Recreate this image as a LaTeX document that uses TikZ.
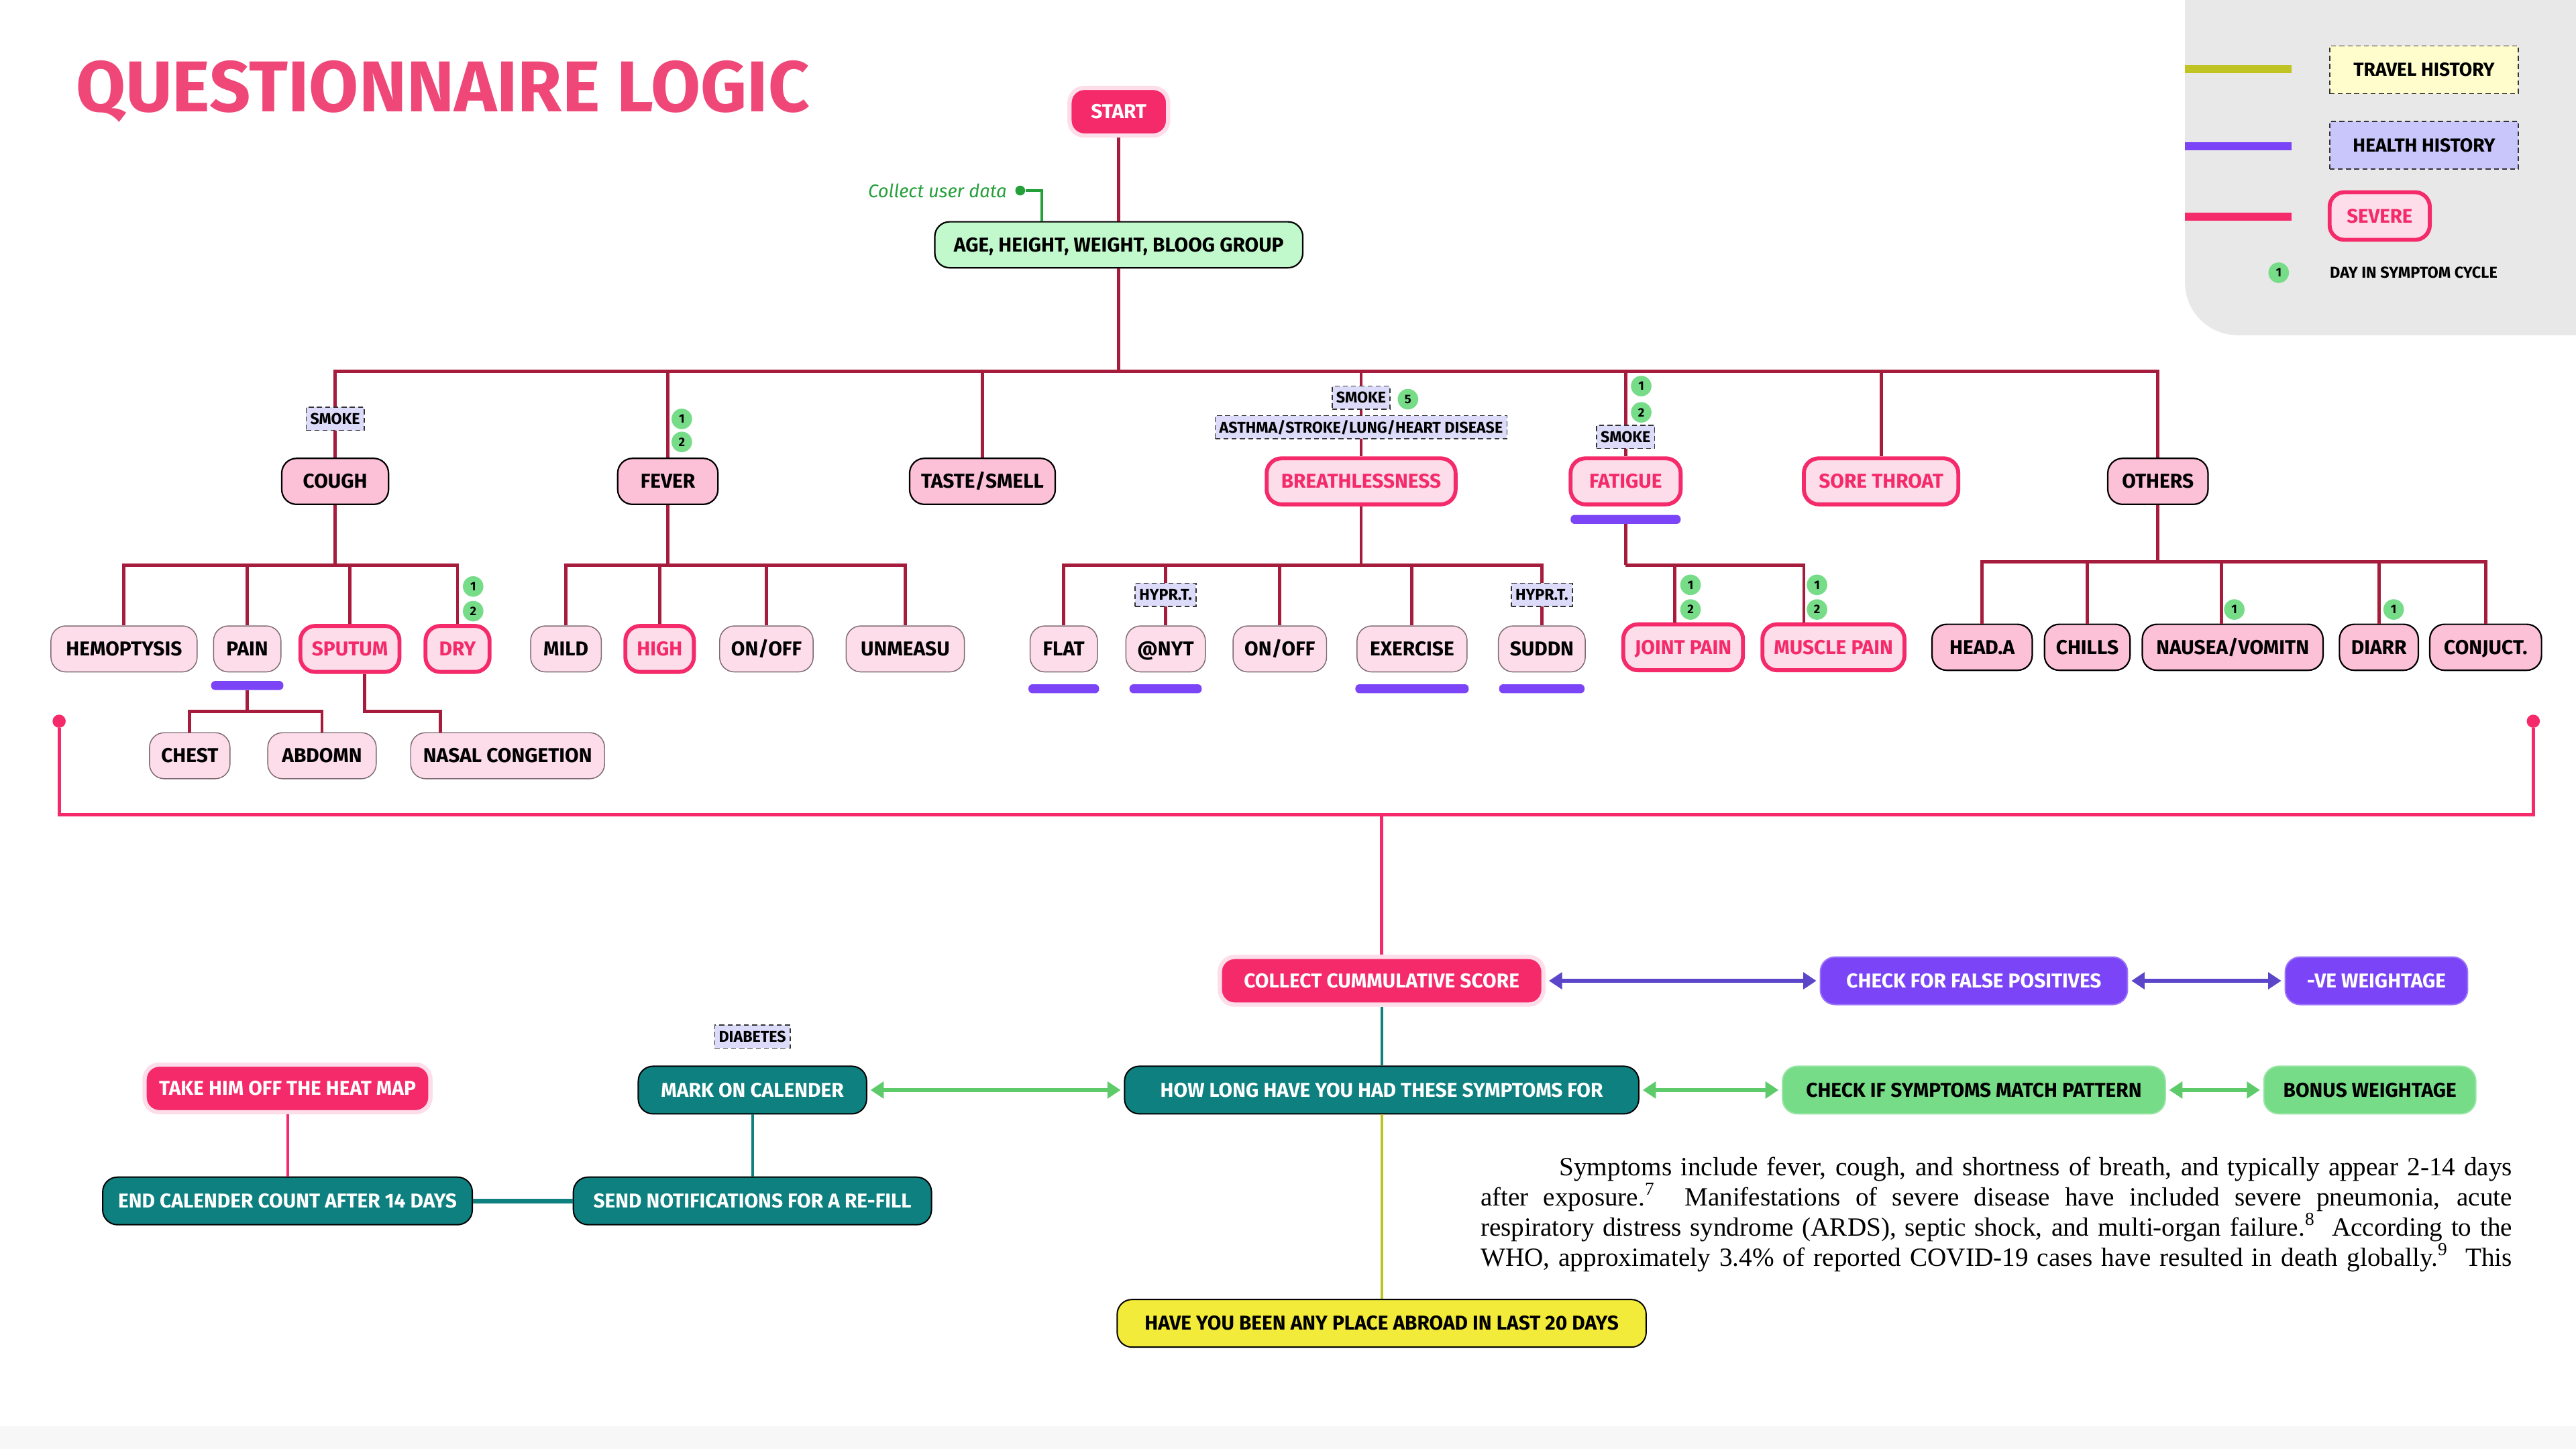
\documentclass[tikz,border=0pt]{standalone}
\usepackage{fontspec}
\setmainfont{Fira Sans}
\newfontfamily\serifbody{Liberation Serif}
\usetikzlibrary{arrows.meta,positioning}
\definecolor{wirered}{HTML}{A61C3C}
\definecolor{hotpink}{HTML}{F42A6A}
\definecolor{glow}{HTML}{FDDDE9}
\definecolor{rosemid}{HTML}{FCC0D7}
\definecolor{roselight}{HTML}{FCDDE9}
\definecolor{rim}{HTML}{7E6A72}
\definecolor{lilac}{HTML}{DCDCFA}
\definecolor{daygreen}{HTML}{77DC88}
\definecolor{violetfill}{HTML}{7B45F7}
\definecolor{violetline}{HTML}{5B46C9}
\definecolor{tealfill}{HTML}{0E8080}
\definecolor{mint}{HTML}{C2F9CC}
\definecolor{arrowgreen}{HTML}{5DCB6A}
\definecolor{lemon}{HTML}{F2EB3A}
\definecolor{travelline}{HTML}{BFC423}
\definecolor{travelfill}{HTML}{FFFDCB}
\definecolor{healthfill}{HTML}{C8C6FB}
\definecolor{panelgrey}{HTML}{E8E8E8}
\definecolor{titlepink}{HTML}{EF4778}
\definecolor{notegreen}{HTML}{24A03A}

\begin{document}
\begin{tikzpicture}[x=1pt,y=-1pt,
 box/.style={rounded corners=9pt,minimum height=28pt,inner xsep=7pt,inner ysep=0pt,text height=8.3pt,text depth=0pt,font=\bfseries\fontsize{12.2}{13}\selectfont},
 topic/.style={box,fill=rosemid,draw=black,line width=.9pt},
 item/.style={box,fill=roselight,draw=rim,line width=.6pt},
 severe/.style={box,fill=roselight,draw=hotpink,line width=2.4pt,text=hotpink},
 hot/.style={box,fill=hotpink,draw=glow,line width=2.6pt,text=white,minimum height=29pt},
 tealbox/.style={box,fill=tealfill,draw=black,line width=.8pt,text=white,minimum height=29pt},
 violetbox/.style={box,fill=violetfill,draw=violetfill!75!white,line width=.8pt,text=white,minimum height=29pt},
 greenbox/.style={box,fill=daygreen,draw=daygreen!75!white,line width=.8pt,minimum height=29pt},
 cond/.style={draw=black!80,dash pattern=on 3pt off 2pt,fill=lilac,line width=.7pt,inner xsep=2.5pt,inner ysep=0pt,minimum height=14pt,text height=6.8pt,text depth=0pt,font=\bfseries\fontsize{9.5}{10}\selectfont},
 day/.style={circle,fill=daygreen,inner sep=0pt,minimum size=12.5pt,font=\bfseries\fontsize{7.5}{8}\selectfont},
 bar/.style={fill=violetfill,rounded corners=2.5pt,minimum height=5.5pt,inner sep=0pt},
 wire/.style={draw=wirered,line width=2pt},
 leadline/.style={line width=1.6pt},
 twoway/.style={{Triangle[length=8pt,width=10pt]}-{Triangle[length=8pt,width=10pt]},line width=2.6pt,shorten <=2pt,shorten >=2pt}]
 \path[use as bounding box,fill=white] (0,0) rectangle (1568,882);
 \begin{scope} \clip (0,0) rectangle (1568,882); \fill[panelgrey,rounded corners=32pt] (1330,-40) rectangle (1610,204); \end{scope}
 \fill[black!3] (0,868) rectangle (1568,882);
 \draw[travelline,line width=5pt] (1330,42)--(1395,42); \draw[violetfill,line width=5pt] (1330,89)--(1395,89); \draw[hotpink,line width=5pt] (1330,132)--(1395,132);
 \node[cond,fill=travelfill,minimum width=115pt,minimum height=29pt,text height=8pt,font=\bfseries\fontsize{11.5}{12}\selectfont] (travel) at (1475.5,42.5) {TRAVEL HISTORY};
 \node[cond,fill=healthfill,minimum width=115pt,minimum height=29pt,text height=8pt,font=\bfseries\fontsize{11.5}{12}\selectfont] (health) at (1475.5,88.5) {HEALTH HISTORY};
 \node[severe,minimum width=61pt,minimum height=29pt,font=\bfseries\fontsize{12}{13}\selectfont] (severekey) at (1448.5,131.5) {SEVERE};
 \node[day] (daykey) at (1387,166) {1}; \node[anchor=west,inner sep=0pt,font=\bfseries\fontsize{9.6}{10}\selectfont] (daytext) at (1418,166) {DAY IN SYMPTOM CYCLE};
 \node[anchor=base west,inner sep=0pt,text=titlepink,font=\bfseries\fontsize{43.8}{46}\selectfont] (title) at (46,68) {QUESTIONNAIRE LOGIC};

 \node[hot,minimum width=60pt] (start) at (681,68) {START};
 \node[box,fill=mint,draw=black,line width=.9pt,minimum width=224pt] (age) at (681,149) {AGE, HEIGHT, WEIGHT, BLOOG GROUP};
 \node[anchor=east,inner sep=0pt,text=notegreen,font=\itshape\fontsize{11.2}{12}\selectfont] (note) at (613,116) {Collect user data};
 \node[circle,fill=notegreen,inner sep=0pt,minimum size=6pt] (notedot) at (621,116) {};

 \node[topic,minimum width=65pt] (cough) at (204,293) {COUGH}; \node[topic,minimum width=61pt] (fever) at (406.5,293) {FEVER};
 \node[topic,minimum width=88pt] (taste) at (598,293) {TASTE/SMELL}; \node[severe,minimum width=115pt] (breath) at (828.5,293) {BREATHLESSNESS};
 \node[severe,minimum width=67pt] (fatigue) at (989.5,293) {FATIGUE}; \node[severe,minimum width=94pt] (sore) at (1145,293) {SORE THROAT};
 \node[topic,minimum width=61pt] (others) at (1313.5,293) {OTHERS};

 \node[item,minimum width=89pt] (hemo) at (75.5,395) {HEMOPTYSIS}; \node[item,minimum width=41pt] (pain) at (150.5,395) {PAIN};
 \node[severe,minimum width=58pt] (sputum) at (213,395) {SPUTUM}; \node[severe,minimum width=39pt] (dry) at (278.5,395) {DRY};
 \node[item,minimum width=43pt] (mild) at (344.5,395) {MILD}; \node[severe,minimum width=41pt] (high) at (401.5,395) {HIGH};
 \node[item,minimum width=55pt] (onoffa) at (466.5,395) {ON/OFF}; \node[item,minimum width=72pt] (unmeas) at (551,395) {UNMEASU};
 \node[item,minimum width=41pt] (flat) at (647.5,395) {FLAT}; \node[item,minimum width=43pt] (nyt) at (709.5,395) {@NYT};
 \node[item,minimum width=54pt] (onoffb) at (779,395) {ON/OFF}; \node[item,minimum width=67pt] (exercise) at (859.5,395) {EXERCISE};
 \node[item,minimum width=51pt] (suddn) at (938.5,395) {SUDDN};
 \node[severe,minimum width=71pt] (joint) at (1024.5,394) {JOINT PAIN}; \node[severe,minimum width=84pt] (muscle) at (1116,394) {MUSCLE PAIN};
 \node[topic,minimum width=61pt] (heada) at (1206.5,394) {HEAD.A}; \node[topic,minimum width=51pt] (chills) at (1270.5,394) {CHILLS};
 \node[topic,minimum width=110pt] (nausea) at (1359,394) {NAUSEA/VOMITN}; \node[topic,minimum width=48pt] (diarr) at (1448,394) {DIARR};
 \node[topic,minimum width=68pt] (conjuct) at (1513,394) {CONJUCT.};
 \node[item,minimum width=49pt] (chest) at (115.5,460) {CHEST}; \node[item,minimum width=66pt] (abdomn) at (196,460) {ABDOMN};
 \node[item,minimum width=118pt] (nasal) at (309,460) {NASAL CONGETION};

 \node[bar,minimum width=44pt,below=5pt of pain] (painbar) {}; \node[bar,minimum width=67pt,below=5pt of fatigue] (fatbar) {};
 \node[bar,minimum width=43pt,below=7pt of flat] (flatbar) {}; \node[bar,minimum width=44pt,below=7pt of nyt] (nytbar) {};
 \node[bar,minimum width=69pt,below=7pt of exercise] (exbar) {}; \node[bar,minimum width=52pt,below=7pt of suddn] (sudbar) {};

 \coordinate (topbus) at (681,226); \coordinate (coughbus) at (204,344); \coordinate (feverbus) at (406.5,344);
 \coordinate (breathbus) at (828.5,344); \coordinate (fatbus) at (989.5,344); \coordinate (othbus) at (1313.5,342); \coordinate (painbus) at (150.5,433);
 \draw[wire] (start) -- (age); \draw[wire] (age) -- (topbus);
 \draw[notegreen,leadline] (notedot) -| ([xshift=-47pt]age.north);
 \foreach \n in {cough,fever,taste,breath,fatigue,sore,others} \draw[wire] (topbus) -| (\n);
 \draw[wire] (cough) -- (coughbus); \foreach \n in {hemo,pain,sputum,dry} \draw[wire] (coughbus) -| (\n);
 \draw[wire] (fever) -- (feverbus); \foreach \n in {mild,high,onoffa,unmeas} \draw[wire] (feverbus) -| (\n);
 \draw[wire] (breath) -- (breathbus); \foreach \n in {flat,nyt,onoffb,exercise,suddn} \draw[wire] (breathbus) -| (\n);
 \draw[wire] (fatbar) -- (fatbus); \draw[wire] (fatbus) -| ([xshift=-5pt]joint.north); \draw[wire] (fatbus) -| ([xshift=-18pt]muscle.north);
 \draw[wire] (others) -- (othbus); \foreach \n in {heada,chills,diarr,conjuct} \draw[wire] (othbus) -| (\n);
 \draw[wire] (othbus) -| ([xshift=-7pt]nausea.north);
 \draw[wire] (painbar) -- (painbus); \draw[wire] (painbus) -| (chest); \draw[wire] (painbus) -| (abdomn);
 \draw[wire] ([xshift=9pt]sputum.south) -- ++(0,23) -| ([xshift=-41pt]nasal.north);

 \node[cond] (smokecough) at (204,255) {SMOKE}; \node[cond] (smokebreath) at (828.5,242) {SMOKE};
 \node[cond] (disease) at (828.5,260) {ASTHMA/STROKE/LUNG/HEART DISEASE}; \node[cond] (smokefat) at (989.5,266) {SMOKE};
 \node[cond] (hypnyt) at (709.5,362) {HYPR.T.}; \node[cond] (hypsud) at (938.5,362) {HYPR.T.};
 \foreach \x/\y/\d in {415/255/1,415/269/2,288/357/1,288/372/2,857/243/5,999/235/1,999/251/2,1029/356/1,1029/371/2,1106/356/1,1106/371/2,1360/371/1,1457/371/1}
  \node[day] (day-\x-\y) at (\x,\y) {\d};

 \node[circle,fill=hotpink,inner sep=0pt,minimum width=7pt,minimum height=8pt] (ldot) at (36,439) {};
 \node[circle,fill=hotpink,inner sep=0pt,minimum width=7pt,minimum height=8pt] (rdot) at (1542,439) {};
 \coordinate (hub) at (841,496);
 \node[hot,minimum width=197pt] (collect) at (841,597) {COLLECT CUMMULATIVE SCORE};
 \node[violetbox,minimum width=187pt] (falsepos) at (1201.5,597) {CHECK FOR FALSE POSITIVES};
 \node[violetbox,minimum width=111pt] (veweight) at (1446.5,597) {-VE WEIGHTAGE};
 \node[tealbox,minimum width=313pt] (howlong) at (841,663.5) {HOW LONG HAVE YOU HAD THESE SYMPTOMS FOR};
 \node[greenbox,minimum width=233pt] (match) at (1201.5,663.5) {CHECK IF SYMPTOMS MATCH PATTERN};
 \node[greenbox,minimum width=129pt] (bonus) at (1442.5,663.5) {BONUS WEIGHTAGE};
 \node[tealbox,minimum width=139pt] (mark) at (458,663.5) {MARK ON CALENDER};
 \node[tealbox,minimum width=218pt] (send) at (458,731) {SEND NOTIFICATIONS FOR A RE-FILL};
 \node[tealbox,minimum width=225pt] (endcal) at (175,731) {END CALENDER COUNT AFTER 14 DAYS};
 \node[hot,minimum width=174pt] (takeoff) at (175,662.5) {TAKE HIM OFF THE HEAT MAP};
 \node[box,fill=lemon,draw=black,line width=.8pt,minimum width=322pt,minimum height=29pt] (abroad) at (841,805.5) {HAVE YOU BEEN ANY PLACE ABROAD IN LAST 20 DAYS};
 \node[cond] (diabetes) at (458,631) {DIABETES};

 \draw[hotpink,line width=2pt] (ldot) |- (hub) -| (rdot); \draw[hotpink,line width=2pt] (hub) -- (collect);
 \draw[twoway,violetline] (collect) -- (falsepos); \draw[twoway,violetline] (falsepos) -- (veweight);
 \draw[twoway,arrowgreen] (mark) -- (howlong); \draw[twoway,arrowgreen] (howlong) -- (match); \draw[twoway,arrowgreen] (match) -- (bonus);
 \draw[tealfill,leadline] (collect) -- (howlong); \draw[travelline,leadline] (howlong) -- (abroad);
 \draw[hotpink,leadline] (takeoff) -- (endcal); \draw[tealfill,leadline] (mark) -- (send); \draw[tealfill,line width=3pt] (endcal) -- (send);

 \node[anchor=north west,inner sep=0pt,text width=628pt,align=justify,font=\serifbody\fontsize{16}{18.4}\selectfont] (blurb) at (901,704)
  {\parfillskip=0pt\hspace*{48pt}Symptoms include fever, cough, and shortness of breath, and typically appear 2-14 days\linebreak
   after exposure.\textsuperscript{7}\ \ Manifestations of severe disease have included severe pneumonia, acute\linebreak
   respiratory distress syndrome (ARDS), septic shock, and multi-organ failure.\textsuperscript{8}\ \ According to the\linebreak
   WHO, approximately 3.4\% of reported COVID-19 cases have resulted in death globally.\textsuperscript{9}\ \ This\par};
\end{tikzpicture}
\end{document}
